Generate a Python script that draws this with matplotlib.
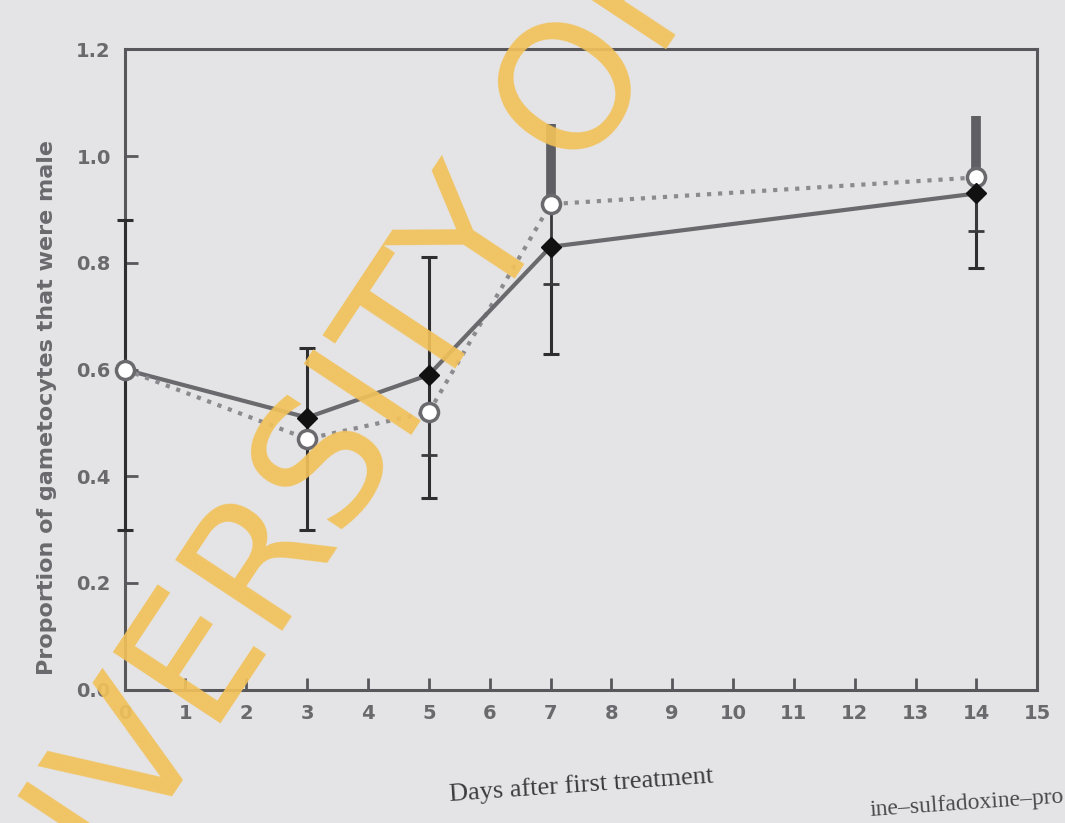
import matplotlib
matplotlib.use("Agg")
import matplotlib.pyplot as plt
import numpy as np

# days after first treatment
days = [0, 3, 5, 7, 14]

# filled markers, solid line
solid_vals = [0.60, 0.51, 0.59, 0.83, 0.93]
solid_low = [0.30, 0.30, 0.36, 0.63, 0.79]
solid_high = [0.88, 0.64, 0.81, 0.83, 0.93]

# open markers, dotted line
dotted_vals = [0.60, 0.47, 0.52, 0.91, 0.96]
dotted_low = [0.60, 0.47, 0.44, 0.76, 0.86]
dotted_high = [0.60, 0.47, 0.52, 1.06, 1.075]

x_ticks = list(range(0, 16))
y_ticks = [0.0, 0.2, 0.4, 0.6, 0.8, 1.0, 1.2]

bg = "#e4e4e6"
ink = "#58585c"

fig = plt.figure(figsize=(10.65, 8.23), dpi=100, facecolor=bg)
ax = fig.add_axes([0.117, 0.162, 0.857, 0.778], facecolor=bg)

# error bars first
s_vals = np.array(solid_vals)
ax.errorbar(days, s_vals,
            yerr=[s_vals - np.array(solid_low), np.array(solid_high) - s_vals],
            fmt="none", ecolor="#2e2e30", elinewidth=2.2, capsize=6, capthick=2.2,
            zorder=3, clip_on=False)

d_vals = np.array(dotted_vals)
ax.errorbar(days, d_vals,
            yerr=[np.zeros(len(days)), np.array(dotted_high) - d_vals],
            fmt="none", ecolor="#5e5e63", elinewidth=7, capsize=0, zorder=3)
ax.errorbar(days, d_vals,
            yerr=[d_vals - np.array(dotted_low), np.zeros(len(days))],
            fmt="none", ecolor="#3a3a3d", elinewidth=2.0, capsize=6, capthick=2.0, zorder=3)

ax.plot(days, dotted_vals, linestyle=":", color="#8a8a8f", linewidth=3.0,
        marker="o", markersize=13, markerfacecolor="white",
        markeredgecolor="#6a6a6e", markeredgewidth=2.5, zorder=5, clip_on=False)
ax.plot(days[1:], solid_vals[1:], linestyle="-", color="#6a6a6e", linewidth=3.0,
        marker="D", markersize=10, markerfacecolor="#111111",
        markeredgecolor="#111111", zorder=6)
ax.plot(days[:2], solid_vals[:2], linestyle="-", color="#6a6a6e", linewidth=3.0, zorder=4)

ax.set_xlim(0, 15)
ax.set_ylim(0, 1.2)
ax.set_xticks(x_ticks)
ax.set_yticks(y_ticks)
ax.set_yticklabels([f"{v:.1f}" for v in y_ticks])
ax.tick_params(direction="in", length=9, width=2, colors=ink, labelsize=14, pad=10)
for lab in ax.get_xticklabels() + ax.get_yticklabels():
    lab.set_fontweight("bold")
    lab.set_color("#6a6a6e")
for sp in ax.spines.values():
    sp.set_color(ink)
    sp.set_linewidth(2.2)

ax.set_xlabel("Days after first treatment", family="Liberation Serif",
              fontsize=19, color="#3c3c3e", labelpad=30, rotation=4)
ax.set_ylabel("Proportion of gametocytes that were male", fontsize=16,
              fontweight="bold", color="#6a6a6e", labelpad=14)
ax.yaxis.label.set_y(0.44)

# cut-off caption line at the bottom of the page
fig.text(1.0, 0.003, "ine\u2013sulfadoxine\u2013pro", family="Liberation Serif",
         fontsize=17, color="#4a4a4c", rotation=4, ha="right", va="bottom")

# watermark over the scan
fig.text(-0.026, -0.335, "UNIVERSITY OF", fontsize=127, color="#f2c25a",
         alpha=0.92, rotation=56.5, rotation_mode="anchor", ha="left", va="baseline",
         family="DejaVu Sans", zorder=10)

fig.savefig("out.png", dpi=100, facecolor=bg)
